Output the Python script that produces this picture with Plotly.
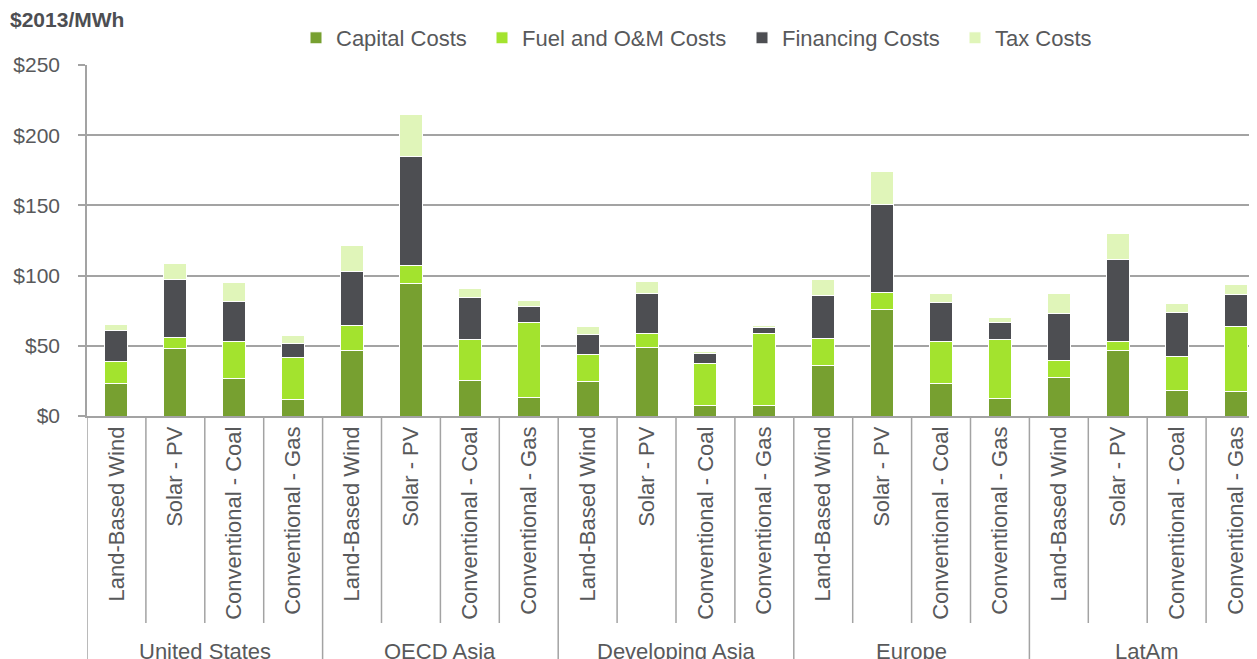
import plotly.graph_objects as go

# categories
regions = ["United States", "OECD Asia", "Developing Asia", "Europe", "LatAm"]
technologies = ["Land-Based Wind", "Solar - PV", "Conventional - Coal", "Conventional - Gas"]

# series values ($2013/MWh), one per region x technology
capital = [23.3, 47.8, 26.4, 12.1, 46.4, 94.7, 25.0, 13.1, 24.3, 49.0,
           7.8, 7.8, 36.2, 75.6, 23.5, 12.8, 27.1, 46.4, 18.1, 17.8]
fuel_om = [15.7, 8.1, 26.9, 29.5, 18.3, 12.3, 29.7, 53.5, 19.7, 10.0,
           29.8, 50.7, 18.7, 12.4, 29.5, 41.9, 12.6, 6.9, 24.5, 45.7]
financing = [21.7, 41.6, 28.1, 9.8, 38.5, 77.8, 29.5, 11.7, 14.0, 28.3,
             7.1, 4.5, 31.2, 62.3, 27.6, 11.7, 33.6, 58.5, 30.9, 23.3]
tax = [4.2, 11.2, 13.7, 6.2, 18.3, 29.8, 6.9, 4.2, 5.7, 8.8,
       1.0, 1.7, 11.4, 23.8, 6.5, 4.0, 13.8, 18.3, 6.9, 7.2]

y_ticks = [0, 50, 100, 150, 200, 250]

series = [
    ("Capital Costs", capital, "#77A030"),
    ("Fuel and O&M Costs", fuel_om, "#A3E32E"),
    ("Financing Costs", financing, "#4D4E52"),
    ("Tax Costs", tax, "#E0F5B9"),
]

tick_labels = technologies * len(regions)
xs = list(range(len(tick_labels)))
n_tech = len(technologies)

GREY = "#A3A3A3"
TEXT = "#58595B"
FONT = "Liberation Sans, Arial, sans-serif"

# the page adds an 8px body margin, so the figure is laid out 8px up/left
OFF = 8
W, H = 1257, 659
L, T = 87 - OFF, 65 - OFF
PLOT_H = 416 - 65
PLOT_W = W - L

fig = go.Figure()
legend_ids = ["legend", "legend2", "legend3", "legend4"]
for (name, vals, color), lid in zip(series, legend_ids):
    fig.add_trace(go.Bar(
        x=xs, y=vals, name=name, width=0.39, legend=lid,
        marker=dict(color=color, line=dict(color="white", width=1)),
    ))

# separators between categories in the label area
shapes = []
for k in range(len(xs) + 1):
    is_group = k % n_tech == 0
    shapes.append(dict(
        type="line", xref="x", yref="paper", ysizemode="pixel", yanchor=0,
        x0=k - 0.5, x1=k - 0.5, y0=0, y1=-260 if is_group else -207,
        line=dict(color=GREY, width=1.5),
    ))

annotations = []
for i, reg in enumerate(regions):
    annotations.append(dict(
        text=reg, xref="x", yref="paper", x=i * n_tech + (n_tech - 1) / 2, y=0,
        yshift=-235, yanchor="middle", showarrow=False,
        font=dict(size=22, color=TEXT, family=FONT),
    ))

# legend text starts in the reference (window px)
legend_text_x = [336, 522, 782, 995]
legends = {}
for lid, tx in zip(legend_ids, legend_text_x):
    legends[lid] = dict(
        orientation="h", x=(tx - 40 - 87) / PLOT_W, xanchor="left",
        y=(416 - 38) / PLOT_H, yanchor="middle",
        font=dict(size=22, color=TEXT, family=FONT),
        bgcolor="rgba(0,0,0,0)", itemwidth=30,
    )

fig.update_layout(
    width=W, height=H,
    margin=dict(l=L, r=0, t=T, b=H - T - PLOT_H, autoexpand=False),
    paper_bgcolor="white", plot_bgcolor="white",
    barmode="stack",
    font=dict(family=FONT, size=21, color=TEXT),
    title=dict(text="<b>$2013/MWh</b>", xref="container", yref="container",
               x=(10 - OFF) / W, y=1 - (20 - OFF) / H, xanchor="left", yanchor="middle",
               font=dict(size=21, color="#4D4E52", family=FONT)),
    shapes=shapes,
    annotations=annotations,
    showlegend=True,
    **legends,
)

fig.update_xaxes(
    range=[-0.5, 19.5], tickmode="array", tickvals=xs, ticktext=tick_labels,
    tickangle=-90, ticks="", showgrid=False, zeroline=False,
    showline=True, linecolor=GREY, linewidth=1.5,
    tickfont=dict(size=22, color=TEXT), fixedrange=True, automargin=False,
)
fig.update_yaxes(
    range=[0, 250], tickmode="array", tickvals=y_ticks,
    ticktext=[f"${v}" for v in y_ticks],
    ticks="outside", ticklen=7, tickcolor=GREY, tickwidth=1.5,
    ticklabelstandoff=14,
    showgrid=True, gridcolor=GREY, gridwidth=1.5, zeroline=False,
    showline=True, linecolor=GREY, linewidth=1.5,
    tickfont=dict(size=21, color=TEXT), automargin=False,
)

fig.write_html("out.html")
